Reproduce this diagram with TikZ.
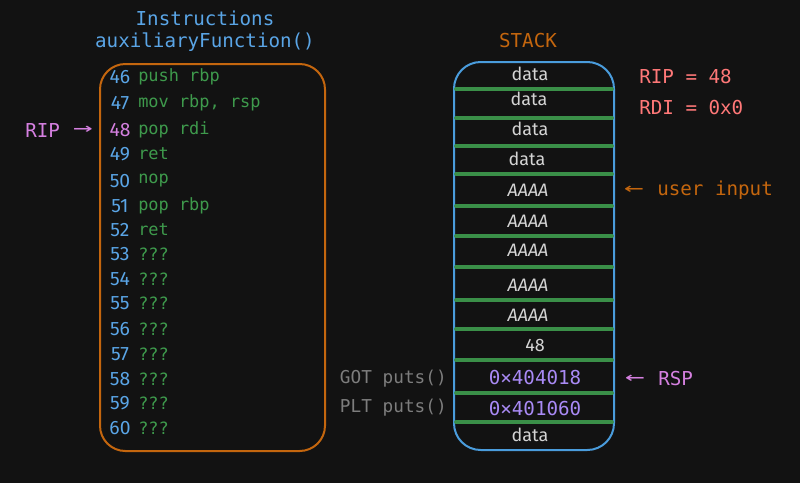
\documentclass[tikz,border=0pt]{standalone}
\usepackage{fontspec}
\setmonofont{DejaVu Sans Mono}
\newfontfamily\handfont{Fira Sans}
\usepackage{xcolor}
\usepackage{tikz}

\definecolor{bgdark}{HTML}{121212}
\definecolor{boxorange}{HTML}{C4660E}
\definecolor{boxblue}{HTML}{4A9CDC}
\definecolor{numblue}{HTML}{5AA5E6}
\definecolor{codegreen}{HTML}{3E9A4C}
\definecolor{sepgreen}{HTML}{3A8F48}
\definecolor{pinkrip}{HTML}{D580E0}
\definecolor{redreg}{HTML}{FF7878}
\definecolor{addrpurple}{HTML}{A98AF5}
\definecolor{cellgray}{HTML}{D4D4D4}
\definecolor{labelgray}{HTML}{7D7D7D}

\tikzset{
	mono/.style={font=\ttfamily\fontsize{14.4}{17}\selectfont, inner sep=0pt},
	lineno/.style={font=\handfont\fontsize{14.5}{16}\selectfont, inner sep=0pt},
	code/.style={anchor=west, font=\ttfamily\fontsize{12.7}{15}\selectfont, text=codegreen, inner sep=0pt},
	cell/.style={font=\handfont\fontsize{13.5}{15}\selectfont, text=cellgray, inner sep=0pt},
	addr/.style={mono, text=addrpurple},
	sideinfo/.style={mono, anchor=west},
	pointer/.style={mono, font=\ttfamily\fontsize{14.4}{17}\selectfont}
}

\begin{document}
\begin{tikzpicture}[x=0.75pt, y=-0.75pt]
			\fill[bgdark] (0,0) rectangle (800,483);

			% instructions
			\node[mono, text=numblue] (instr) at (205,18) {Instructions};
			\node[mono, text=numblue] (func) at (205,42) {auxiliaryFunction()};
			\draw[boxorange, line width=1.5pt, rounded corners=19pt] (100,64) rectangle (325,451);
			\foreach \n/\y/\txt/\col in {46/77/push rbp/numblue, 47/103/{mov rbp, rsp}/numblue,
					48/130/pop rdi/pinkrip, 49/154/ret/numblue, 50/181/nop/numblue,
					51/206/pop rbp/numblue, 52/230/ret/numblue, 53/254/???/numblue,
					54/279/???/numblue, 55/303/???/numblue, 56/329/???/numblue,
					57/354/???/numblue, 58/379/???/numblue, 59/403/???/numblue, 60/428/???/numblue}
			{
				\node[lineno, text=\col] (num\n) at (120,\y) {\n};
				\node[code] (ins\n) at (138,\y) {\txt};
			}
			\node[sideinfo, text=pinkrip] (rip) at (25,130) {RIP};
			\node[pointer, text=pinkrip] (ripptr) at (83,130) {\scalebox{1.7}[1]{→}};

			% stack
			\node[mono, text=boxorange] (stack) at (528,41) {STACK};
			\draw[boxblue, line width=1.5pt, rounded corners=20pt] (454,62) rectangle (614,450);
			\foreach \y in {89,118,146,174,206,236,267,300,329,360,393,422}
				\draw[sepgreen, line width=2.8pt, line cap=round] (456,\y) -- (612,\y);
			\node[cell] (d1) at (530,74) {data};
			\node[cell] (d2) at (529,99) {data};
			\node[cell] (d3) at (530,129) {data};
			\node[cell] (d4) at (527,159) {data};
			\foreach \i/\y in {1/190,2/221,3/250,4/285,5/315}
				\node[cell, font=\handfont\itshape\fontsize{13.5}{15}\selectfont] (a\i) at (528,\y) {AAAA};
			\node[cell] (ret) at (535,345) {48};
			\node[addr] (got) at (535,378) {0×404018};
			\node[addr] (plt) at (535,409) {0×401060};
			\node[cell] (d5) at (530,435) {data};

			% labels
			\node[sideinfo, text=redreg] (regrip) at (639,77) {RIP = 48};
			\node[sideinfo, text=redreg] (regrdi) at (639,108) {RDI = 0x0};
			\node[pointer, text=boxorange] (inputptr) at (634,190) {\scalebox{1.7}[1]{←}};
			\node[sideinfo, text=boxorange] (input) at (657,190) {user input};
			\node[pointer, text=pinkrip] (rspptr) at (635,379) {\scalebox{1.7}[1]{←}};
			\node[sideinfo, text=pinkrip] (rsp) at (658,379) {RSP};
			\node[mono, anchor=east, text=labelgray, font=\ttfamily\fontsize{13.3}{16}\selectfont] (gotl) at (447,379) {GOT puts()};
			\node[mono, anchor=east, text=labelgray, font=\ttfamily\fontsize{13.3}{16}\selectfont] (pltl) at (447,408) {PLT puts()};
		\end{tikzpicture}
\end{document}
